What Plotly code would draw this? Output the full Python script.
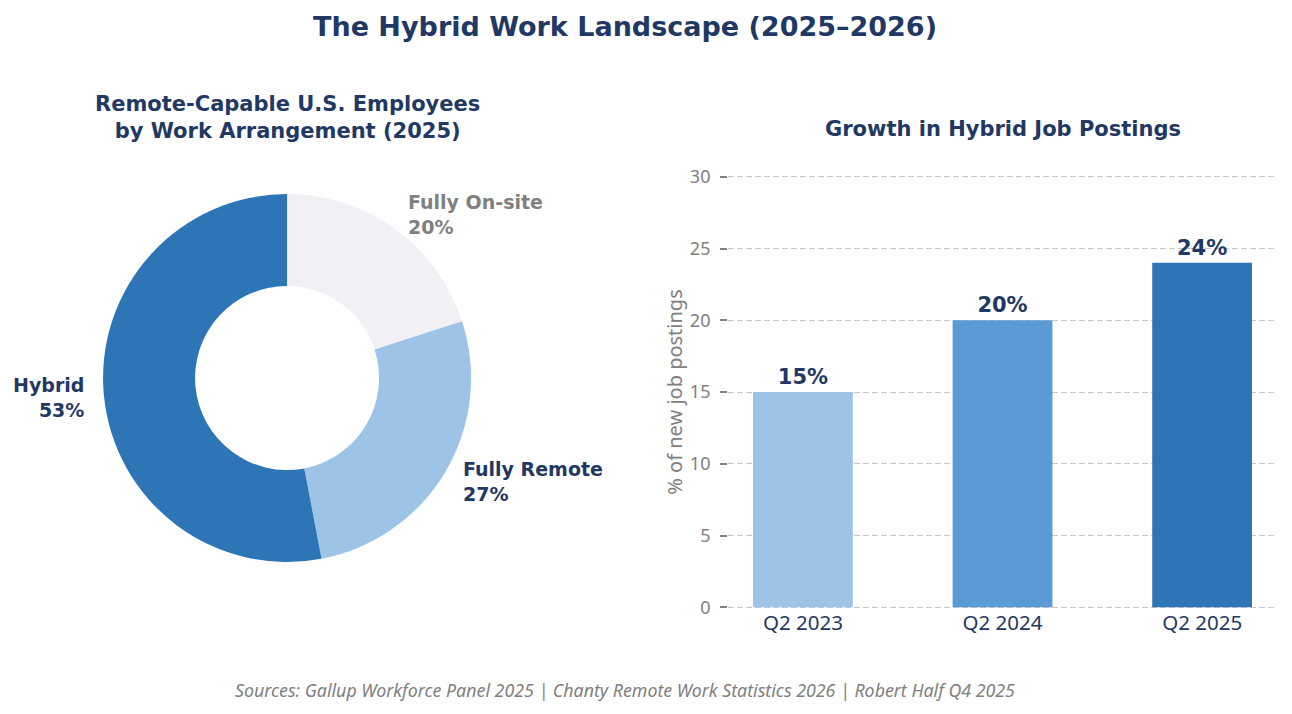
import math
import plotly.graph_objects as go

# Donut data
arrangements = ["Fully On-site", "Fully Remote", "Hybrid"]
shares = [20, 27, 53]
slice_colors = ["#F2F0F4", "#9DC3E6", "#2E75B6"]
label_colors = ["#808080", "#1F3864", "#1F3864"]

# Bar data
quarters = ["Q2 2023", "Q2 2024", "Q2 2025"]
hybrid_postings = [15, 20, 24]
bar_colors = ["#9DC3E6", "#5B9BD5", "#2E75B6"]
y_ticks = [0, 5, 10, 15, 20, 25, 30]

NAVY = "#1F3864"
GRAY = "#808080"
W, H = 1276, 698

# donut geometry (paper fractions / pixels)
pie_cx, pie_cy, pie_r = 0.2187, 0.4699, 184

fig = go.Figure()

fig.add_trace(go.Pie(
    labels=arrangements,
    values=shares,
    hole=0.5,
    sort=False,
    direction="clockwise",
    rotation=0,
    marker=dict(colors=slice_colors, line=dict(width=0)),
    textinfo="none",
    hoverinfo="label+percent",
    showlegend=False,
    domain=dict(x=[pie_cx - pie_r / W, pie_cx + pie_r / W],
                y=[pie_cy - pie_r / H, pie_cy + pie_r / H]),
))

fig.add_trace(go.Bar(
    x=quarters,
    y=hybrid_postings,
    width=0.5,
    marker=dict(color=bar_colors, line=dict(width=0)),
    text=[f"{v}%" for v in hybrid_postings],
    textposition="outside",
    textfont=dict(color=NAVY, size=21, family="DejaVu Sans"),
    texttemplate="<b>%{text}</b>",
    cliponaxis=False,
    showlegend=False,
))

# donut labels at 1.1 x radius, mid-angle of each slice
annotations = []
total = sum(shares)
start = 0
for name, val, col in zip(arrangements, shares, label_colors):
    mid = (start + val / 2) / total * 2 * math.pi
    start += val
    dx = 1.1 * pie_r * math.sin(mid)
    dy = 1.1 * pie_r * math.cos(mid)
    side = "left" if dx > 0 else "right"
    annotations.append(dict(
        text=f"<b>{name}<br>{round(val / total * 100)}%</b>",
        x=pie_cx + dx / W, y=pie_cy + dy / H,
        xref="paper", yref="paper", showarrow=False,
        xanchor=side, yanchor="middle", align=side,
        font=dict(family="DejaVu Sans", size=19, color=col),
    ))

annotations += [
    dict(text="<b>The Hybrid Work Landscape (2025–2026)</b>", x=0.4835, y=0.9728,
         xref="paper", yref="paper", showarrow=False, xanchor="center", yanchor="middle",
         font=dict(family="DejaVu Sans", size=27, color=NAVY)),
    dict(text="<b>Remote-Capable U.S. Employees<br>by Work Arrangement (2025)</b>",
         x=pie_cx, y=0.8438, xref="paper", yref="paper", showarrow=False,
         xanchor="center", yanchor="middle",
         font=dict(family="DejaVu Sans", size=21, color=NAVY)),
    dict(text="<b>Growth in Hybrid Job Postings</b>", x=0.7798, y=0.8267,
         xref="paper", yref="paper", showarrow=False, xanchor="center", yanchor="middle",
         font=dict(family="DejaVu Sans", size=21, color=NAVY)),
    dict(text="<i>Sources: Gallup Workforce Panel 2025 | Chanty Remote Work Statistics 2026 | Robert Half Q4 2025</i>",
         x=0.4835, y=0.0229, xref="paper", yref="paper", showarrow=False,
         xanchor="center", yanchor="middle",
         font=dict(family="Noto Sans", size=17.8, color=GRAY)),
]

fig.update_layout(
    width=W, height=H,
    margin=dict(l=0, r=0, t=0, b=0),
    paper_bgcolor="white",
    plot_bgcolor="white",
    font=dict(family="Noto Sans", color=GRAY),
    xaxis=dict(
        domain=[0.5643, 0.9945],
        range=[-0.375, 2.375],
        automargin=False,
        showline=False, showgrid=False, zeroline=False,
        tickfont=dict(size=20.5, color=NAVY),
        ticks="",
    ),
    yaxis=dict(
        domain=[0.1394, 0.7603],
        range=[-0.1, 30.1],
        tickvals=y_ticks,
        automargin=False,
        showline=False, zeroline=False,
        showgrid=True, gridcolor="#C8C8C8", griddash="6px,3px", gridwidth=1.3,
        ticks="outside", ticklen=7, tickwidth=1.5, tickcolor=GRAY,
        ticklabelstandoff=6,
        tickfont=dict(size=18, color=GRAY),
        title=dict(text="% of new job postings", font=dict(size=20, color=GRAY), standoff=1),
    ),
    annotations=annotations,
)

fig.write_html("out.html")
